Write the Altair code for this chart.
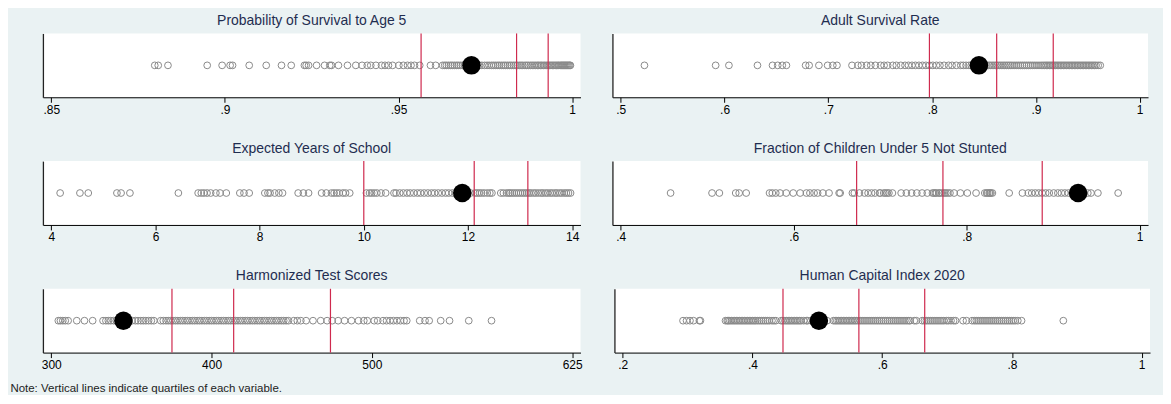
import altair as alt
import pandas as pd

# ---------------- data ----------------
titles = [
    "Probability of Survival to Age 5",
    "Adult Survival Rate",
    "Expected Years of School",
    "Fraction of Children Under 5 Not Stunted",
    "Harmonized Test Scores",
    "Human Capital Index 2020",
]

survival_u5 = [
    .8798, .8808, .8836, .8949, .8992, .9015, .9022, .9070, .9119, .9163, .9191, .9229,
    .9234, .9241, .9264, .9287, .9302, .9307, .9327, .9353, .9377, .9395, .9410, .9420,
    .9435, .9451, .9461, .9471, .9483, .9501, .9514, .9526, .9536, .9546, .9561, .9592,
    .9607, .9627, .9633, .9638, .9644, .9650, .9655, .9661, .9667, .9672, .9678, .9684,
    .9690, .9697, .9703, .9710, .9718, .9725, .9733, .9740, .9748, .9755, .9761, .9768,
    .9774, .9780, .9786, .9791, .9797, .9803, .9808, .9814, .9820, .9825, .9831, .9836,
    .9842, .9848, .9853, .9858, .9864, .9869, .9874, .9880, .9885, .9890, .9895, .9900,
    .9904, .9909, .9913, .9918, .9922, .9927, .9931, .9935, .9939, .9943, .9947, .9951,
    .9955, .9959, .9962, .9966, .9969, .9972, .9975, .9978, .9981, .9984, .9987, .9990,
    .9993, .9995,
]
adult_survival = [
    .5228, .5914, .6042, .6317, .6462, .6512, .6556, .6596, .6781, .6815, .6909, .6993,
    .7043, .7083, .7228, .7285, .7319, .7369, .7409, .7453, .7503, .7537, .7571, .7621,
    .7655, .7698, .7739, .7772, .7806, .7839, .7873, .7907, .7940, .7974, .8007, .8041,
    .8075, .8115, .8159, .8192, .8233, .8276, .8300, .8327, .8355, .8377, .8400, .8427,
    .8450, .8470, .8495, .8520, .8545, .8560, .8578, .8595, .8612, .8630, .8648, .8665,
    .8683, .8700, .8718, .8735, .8752, .8770, .8790, .8810, .8830, .8850, .8870, .8890,
    .8910, .8930, .8950, .8970, .8990, .9010, .9030, .9050, .9068, .9085, .9100, .9115,
    .9130, .9145, .9160, .9175, .9190, .9205, .9220, .9235, .9250, .9265, .9280, .9295,
    .9310, .9325, .9340, .9355, .9370, .9385, .9400, .9415, .9430, .9445, .9460, .9475,
    .9490, .9505, .9520, .9535, .9550, .9565, .9580, .9600, .9620,
]
school_years = [
    4.17, 4.55, 4.71, 5.26, 5.34, 5.51, 6.44, 6.82, 6.88, 6.93, 6.99, 7.06, 7.16, 7.24,
    7.36, 7.62, 7.70, 7.80, 8.10, 8.16, 8.20, 8.29, 8.37, 8.44, 8.74, 8.84, 8.94, 9.19,
    9.28, 9.38, 9.43, 9.48, 9.53, 9.60, 9.65, 9.73, 10.05, 10.11, 10.15, 10.20, 10.25,
    10.33, 10.42, 10.58, 10.62, 10.69, 10.76, 10.83, 10.89, 10.96, 11.03, 11.09, 11.16,
    11.23, 11.30, 11.36, 11.43, 11.50, 11.57, 11.63, 11.70, 11.76, 11.82, 11.88, 11.94,
    12.00, 12.05, 12.14, 12.18, 12.22, 12.26, 12.31, 12.37, 12.42, 12.46, 12.63, 12.68,
    12.74, 12.78, 12.81, 12.85, 12.89, 12.93, 12.97, 13.01, 13.05, 13.09, 13.13, 13.17,
    13.21, 13.26, 13.30, 13.35, 13.40, 13.44, 13.49, 13.53, 13.58, 13.62, 13.67, 13.71,
    13.76, 13.80, 13.85, 13.89, 13.93, 13.97,
]
not_stunted = [
    .4576, .5055, .5140, .5329, .5369, .5450, .5720, .5752, .5792, .5841, .5913, .5994,
    .6074, .6147, .6187, .6235, .6276, .6336, .6408, .6525, .6537, .6678, .6700, .6759,
    .6819, .6860, .6900, .6940, .6992, .7000, .7041, .7060, .7081, .7100, .7141, .7242,
    .7302, .7363, .7423, .7484, .7544, .7604, .7620, .7637, .7650, .7677, .7690, .7717,
    .7740, .7758, .7780, .7806, .7854, .7927, .8007, .8108, .8209, .8230, .8241, .8260,
    .8269, .8280, .8297, .8491, .8644, .8712, .8752, .8793, .8833, .8873, .8913, .8954,
    .9006, .9054, .9095, .9135, .9175, .9215, .9250, .9288, .9320, .9360, .9400, .9437,
    .9517, .9751,
]
test_scores = [
    304.4, 305.7, 307.2, 308.7, 310.5, 315.9, 320.7, 325.8, 332.3, 334.1, 335.6, 337.1,
    338.9, 340.5, 342.0, 345.0, 348.0, 350.5, 352.5, 354.1, 355.9, 357.4, 359.0, 360.7,
    362.4, 364.0, 368.3, 369.9, 371.6, 373.0, 374.5, 376.0, 377.5, 379.0, 380.5, 382.0,
    383.5, 385.0, 386.5, 388.0, 389.5, 391.0, 392.5, 394.0, 395.5, 397.0, 398.5, 400.0,
    401.5, 403.0, 404.5, 406.0, 407.5, 409.0, 410.5, 412.0, 413.5, 415.0, 416.5, 418.0,
    419.5, 421.0, 422.5, 424.0, 425.5, 427.0, 428.5, 430.0, 431.5, 433.0, 434.5, 436.0,
    437.5, 439.0, 440.5, 442.0, 443.5, 445.0, 446.5, 448.0, 451.3, 453.5, 455.7, 459.0,
    463.3, 468.1, 472.1, 475.3, 479.0, 483.0, 487.3, 491.7, 495.0, 497.2, 501.5, 503.7,
    507.0, 509.2, 511.4, 513.5, 515.7, 517.9, 520.1, 521.8, 529.9, 533.2, 535.8, 543.0,
    548.5, 560.5, 574.7,
]
hci_2020 = [
    .2929, .2983, .3036, .3090, .3181, .3197, .3584, .3610, .3627, .3650, .3675, .3700,
    .3725, .3750, .3775, .3800, .3825, .3850, .3875, .3900, .3925, .3950, .3975, .4000,
    .4025, .4050, .4080, .4110, .4140, .4170, .4200, .4230, .4260, .4300, .4330, .4360,
    .4443, .4470, .4500, .4525, .4550, .4575, .4600, .4625, .4650, .4675, .4700, .4725,
    .4750, .4790, .4830, .4850, .4900, .4950, .5000, .5050, .5100, .5150, .5248, .5275,
    .5300, .5325, .5350, .5375, .5400, .5425, .5450, .5475, .5500, .5525, .5550, .5575,
    .5600, .5630, .5660, .5690, .5720, .5750, .5780, .5810, .5840, .5870, .5900, .5930,
    .5960, .5990, .6020, .6050, .6080, .6110, .6140, .6170, .6200, .6230, .6260, .6290,
    .6320, .6350, .6380, .6410, .6430, .6494, .6526, .6617, .6650, .6680, .6710, .6740,
    .6770, .6800, .6830, .6860, .6890, .6920, .6950, .6990, .7020, .7060, .7100, .7130,
    .7246, .7299, .7385, .7420, .7450, .7480, .7510, .7540, .7570, .7600, .7630, .7660,
    .7690, .7720, .7750, .7780, .7810, .7840, .7870, .7900, .7930, .7960, .7990, .8020,
    .8050, .8090, .8148, .8792,
]
series = [survival_u5, adult_survival, school_years, not_stunted, test_scores, hci_2020]

quartiles = [
    [.9565, .9840, .9931],
    [.7974, .8622, .9167],
    [10.0, 12.12, 13.15],
    [.6727, .7725, .8873],
    [375.3, 413.8, 474.2],
    [.4470, .5640, .6655],
]
highlight = [.9710, .8451, 11.89, .9288, 345.0, .5023]

tick_values = [
    [.85, .9, .95, 1],
    [.5, .6, .7, .8, .9, 1],
    [4, 6, 8, 10, 12, 14],
    [.4, .6, .8, 1],
    [300, 400, 500, 625],
    [.2, .4, .6, .8, 1],
]
tick_labels = [
    [".85", ".9", ".95", "1"],
    [".5", ".6", ".7", ".8", ".9", "1"],
    ["4", "6", "8", "10", "12", "14"],
    [".4", ".6", ".8", "1"],
    ["300", "400", "500", "625"],
    [".2", ".4", ".6", ".8", "1"],
]
note = "Note: Vertical lines indicate quartiles of each variable."

# ---------------- style ----------------
FONT = "Liberation Sans"
BG = "#EAF2F3"
RED = "#CF2A4E"
GRAY = "#8A8A8A"
NAVY = "#1F2D50"
W1, W2, H = 539, 537, 64


def label_expr(vals, labs):
    expr = "''"
    for v, l in reversed(list(zip(vals, labs))):
        expr = f"datum.value == {v} ? '{l}' : ({expr})"
    return expr


def panel(i, width):
    vals = tick_values[i]
    lo, hi = min(vals), max(vals)
    pad = (hi - lo) * 0.0161
    xscale = alt.Scale(domain=[lo - pad, hi + pad], nice=False, zero=False)
    xaxis = alt.Axis(
        values=vals, labelExpr=label_expr(vals, tick_labels[i]), title=None, grid=False,
        tickSize=5, tickColor="black", domainColor="black", labelColor="black",
        labelFont=FONT, labelFontSize=12, labelPadding=2, labelFlush=False,
    )
    yenc = alt.YDatum(
        1, type="quantitative", scale=alt.Scale(domain=[0, 2]),
        axis=alt.Axis(title=None, labels=False, ticks=False, grid=False,
                      domainColor="#222222", domainWidth=1.3),
    )
    pts = alt.Chart(pd.DataFrame({"v": series[i]})).mark_point(
        shape="circle", filled=False, size=46, color=GRAY, strokeWidth=1, opacity=1
    ).encode(x=alt.X("v:Q", scale=xscale, axis=xaxis), y=yenc)
    rules = alt.Chart(pd.DataFrame({"v": quartiles[i]})).mark_rule(
        color=RED, strokeWidth=1.2
    ).encode(x=alt.X("v:Q"))
    dot = alt.Chart(pd.DataFrame({"v": [highlight[i]]})).mark_circle(
        size=345, color="black", opacity=1
    ).encode(x=alt.X("v:Q"), y=yenc)
    return alt.layer(pts, rules, dot).properties(
        width=width, height=H,
        title=alt.TitleParams(titles[i], font=FONT, fontSize=14, fontWeight="normal",
                              color=NAVY, anchor="middle", offset=5),
    )


rows = [alt.hconcat(panel(2 * r, W1), panel(2 * r + 1, W2), spacing=32) for r in range(3)]
chart = alt.vconcat(*rows, spacing=26).properties(
    padding={"left": 2, "top": 5, "right": 13, "bottom": 0},
    background=BG,
    title=alt.TitleParams(note, orient="bottom", anchor="start", font=FONT, fontSize=11.5,
                          fontWeight="normal", color="#222222", dx=-31, offset=12),
).configure_view(fill="white", stroke=None)

chart.save("out.html", embed_options={"renderer": "svg", "actions": False})
